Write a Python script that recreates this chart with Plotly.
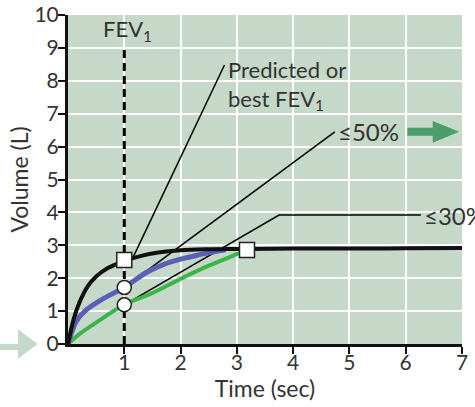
import plotly.graph_objects as go

# time (sec) / volume (L)
t_pred = [0, 0.1, 0.2, 0.35, 0.5, 0.7, 1.0, 1.3, 1.6, 2.0, 2.5, 3.0, 4.0, 5.0, 6.0, 7.0]
v_pred = [0, 0.75, 1.25, 1.75, 2.05, 2.3, 2.52, 2.68, 2.78, 2.85, 2.88, 2.89, 2.9, 2.9, 2.91, 2.92]

t_mod = [0, 0.15, 0.3, 0.6, 1.0, 1.4, 1.7, 2.0, 2.3, 2.6, 2.8]
v_mod = [0, 0.7, 1.0, 1.35, 1.72, 2.18, 2.42, 2.58, 2.7, 2.8, 2.86]

t_sev = [0, 0.2, 0.5, 1.0, 1.5, 2.0, 2.5, 3.0, 3.18]
v_sev = [0, 0.3, 0.65, 1.19, 1.55, 1.98, 2.38, 2.73, 2.86]

fev1_time = 1
square_x = [1.0, 3.18]
square_y = [2.55, 2.86]
circle_x = [1.0, 1.0]
circle_y = [1.72, 1.19]

# leader lines for the labels
pred_line_x = [1.16, 2.78]
pred_line_y = [2.65, 8.48]
l50_x = [1.0, 4.74]
l50_y = [1.72, 6.45]
l30_x = [1.0, 3.75, 6.27]
l30_y = [1.19, 3.92, 3.92]

bg = '#c6d8c7'
txt = '#333333'
font = 'Lato'

fig = go.Figure()

thin = dict(color='black', width=1.5)
fig.add_trace(go.Scatter(x=pred_line_x, y=pred_line_y, mode='lines', line=thin))
fig.add_trace(go.Scatter(x=l50_x, y=l50_y, mode='lines', line=thin))
fig.add_trace(go.Scatter(x=l30_x, y=l30_y, mode='lines', line=thin))

fig.add_trace(go.Scatter(x=[fev1_time, fev1_time], y=[0, 9.05], mode='lines',
                         line=dict(color='black', width=3, dash='8px,5px')))

fig.add_trace(go.Scatter(x=t_sev, y=v_sev, mode='lines', line=dict(color='#3cb44a', width=4, shape='spline')))
fig.add_trace(go.Scatter(x=t_mod, y=v_mod, mode='lines', line=dict(color='#5c5fb8', width=5, shape='spline')))
fig.add_trace(go.Scatter(x=t_pred, y=v_pred, mode='lines', line=dict(color='#111111', width=4, shape='spline')))

fig.add_trace(go.Scatter(x=circle_x, y=circle_y, mode='markers',
                         marker=dict(symbol='circle', size=14, color='white',
                                     line=dict(color='#222222', width=1.5))))
fig.add_trace(go.Scatter(x=square_x, y=square_y, mode='markers',
                         marker=dict(symbol='square', size=15, color='white',
                                     line=dict(color='#222222', width=1.5))))

# green arrow after <=50%
fig.add_shape(type='path', xref='x', yref='y', layer='above',
              path='M 6.03 6.33 L 6.48 6.33 L 6.48 6.12 L 6.95 6.45 L 6.48 6.78 L 6.48 6.57 L 6.03 6.57 Z',
              fillcolor='#4b9d6c', line=dict(width=0))
# pale arrow pointing at zero, left of the axis
fig.add_shape(type='path', xref='paper', yref='paper',
              path='M -0.18 0.0 L -0.127 0.0 L -0.127 0.045 L -0.077 -0.0 L -0.127 -0.045 '
                   'L -0.127 -0.018 L -0.18 -0.018 Z',
              fillcolor='#c6d8c8', line=dict(width=0))

ann_font = dict(family=font, size=22, color=txt)
pct_font = dict(family=font, size=24, color=txt)
fig.add_annotation(x=1.06, y=9.55, text='FEV<sub>1</sub>', showarrow=False, font=ann_font)
fig.add_annotation(x=2.8, y=8.8, text='Predicted or<br>best FEV<sub>1</sub>', showarrow=False,
                   xanchor='left', yanchor='top', align='left', font=ann_font)
fig.add_annotation(x=4.76, y=6.47, text='≤50%', showarrow=False, xanchor='left', font=pct_font)
fig.add_annotation(x=6.29, y=3.9, text='≤30%', showarrow=False, xanchor='left', font=pct_font)

axis_common = dict(showgrid=True, gridcolor='white', gridwidth=2, zeroline=False,
                   showline=True, linecolor='#111111', linewidth=3,
                   ticks='outside', ticklen=7, tickwidth=2, tickcolor='#111111',
                   tickfont=dict(family=font, size=21, color=txt), automargin=False)

fig.update_layout(
    width=475, height=407,
    margin=dict(l=68, r=13, t=15, b=63),
    paper_bgcolor='white',
    plot_bgcolor=bg,
    showlegend=False,
    font=dict(family=font, size=21, color=txt),
    xaxis=dict(range=[0, 7], tickvals=[1, 2, 3, 4, 5, 6, 7], ticklabelstandoff=-9,
               title=dict(text='Time (sec)', standoff=5, font=dict(size=23)), **axis_common),
    yaxis=dict(range=[0, 10], tickvals=list(range(0, 11)), ticklabelstandoff=-5,
               title=dict(text='Volume (L)', standoff=0, font=dict(size=23)), **axis_common),
)

fig.write_html('out.html', config={'displayModeBar': False},
               post_script="document.body.style.margin='0';")
